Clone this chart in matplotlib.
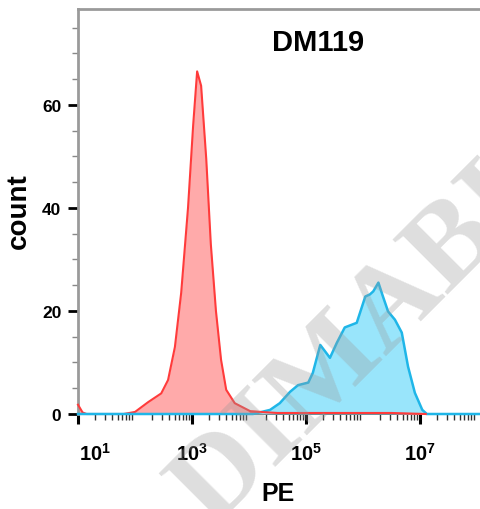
import matplotlib
matplotlib.use("Agg")
import numpy as np
import matplotlib.pyplot as plt
import matplotlib.transforms as mtransforms
from matplotlib.ticker import MultipleLocator, LogLocator, NullFormatter

plt.rcParams['font.family'] = 'Liberation Sans'
plt.rcParams['mathtext.fontset'] = 'custom'
plt.rcParams['mathtext.rm'] = 'Liberation Sans:bold'
plt.rcParams['mathtext.it'] = 'Liberation Sans:bold'
plt.rcParams['mathtext.bf'] = 'Liberation Sans:bold'

# ── Data (log10 of PE intensity vs count) ─────────────────────
ctrl_log = [1.0, 1.08, 1.15, 1.8, 2.0, 2.23, 2.46, 2.58, 2.70, 2.81, 2.93,
            3.02, 3.09, 3.16, 3.25, 3.33, 3.42, 3.51, 3.60, 3.75, 4.03,
            4.5, 5.0, 5.5, 6.0, 6.5, 7.1]
ctrl_count = [1.8, 0.3, 0, 0, 0.4, 2.3, 4.0, 6.6, 13, 23.5, 40,
              56, 66.5, 63.7, 49.5, 33, 20, 10.5, 4.7, 2.1, 0.5,
              0.2, 0.2, 0.2, 0.2, 0.2, 0]

dm_log = [1.0, 4.07, 4.37, 4.54, 4.72, 4.86, 5.04, 5.12, 5.25, 5.42, 5.54,
          5.68, 5.89, 6.04, 6.12, 6.18, 6.27, 6.35, 6.44, 6.56, 6.68, 6.79,
          6.91, 7.04, 7.12, 8.07]
dm_count = [0, 0, 0.8, 2.1, 4.3, 5.6, 6.1, 8.0, 13.4, 10.9, 13.8,
            16.8, 17.7, 22.8, 23.2, 23.8, 25.5, 22.8, 19.9, 18.3, 15.8, 9.2,
            4.1, 0.8, 0, 0]

xtick_exp = [1, 3, 5, 7]
ytick_major = [0, 20, 40, 60]

RED_LINE, RED_FILL = "#FF3B3B", "#FFAAAA"
BLUE_LINE, BLUE_FILL = "#1FB6E8", "#99E5FB"

W, H = 481, 510
fig = plt.figure(figsize=(W / 100, H / 100), dpi=100)
ax = fig.add_axes([78 / W, 1 - 415 / H, 1 - 78 / W, (415 - 10) / H])

cx = 10 ** np.array(ctrl_log)
bx = 10 ** np.array(dm_log)

ax.fill_between(cx, ctrl_count, 0, color=RED_FILL, lw=0, zorder=2)
ax.plot(cx, ctrl_count, color=RED_LINE, lw=1.5, zorder=3, clip_on=False)
ax.fill_between(bx, dm_count, 0, color=BLUE_FILL, lw=0, zorder=4)
ax.plot(bx, dm_count, color=BLUE_LINE, lw=1.8, zorder=5, clip_on=False)
# red baseline stays visible across the positive population
tail = np.array(ctrl_log) >= 4.0
ax.plot(cx[tail], np.array(ctrl_count)[tail], color=RED_LINE, lw=1.5,
        zorder=6, clip_on=False)

ax.set_xscale("log")
ax.set_xlim(10, 10 ** 8.07)
ax.set_ylim(0, 78.6)

# ── Axes styling ─────────────────────────────────────────────
for s in ("left", "top"):
    ax.spines[s].set_color("#9a9a9a")
    ax.spines[s].set_linewidth(2)
ax.spines["right"].set_visible(False)
ax.spines["bottom"].set_color("#222222")
ax.spines["bottom"].set_linewidth(1.2)

ax.set_yticks(ytick_major)
ax.set_yticklabels([str(v) for v in ytick_major])
ax.yaxis.set_minor_locator(MultipleLocator(5))
ax.set_xticks([10.0 ** e for e in xtick_exp])
ax.set_xticklabels([r"$10^{%d}$" % e for e in xtick_exp])
ax.xaxis.set_minor_locator(LogLocator(base=10, subs=np.arange(2, 10), numticks=20))
ax.xaxis.set_minor_formatter(NullFormatter())

ax.tick_params(axis="y", which="major", direction="out", length=7, width=2,
               color="black", labelsize=12.5, pad=5)
ax.tick_params(axis="y", which="minor", direction="out", length=4, width=1,
               color="#888888")
ax.tick_params(axis="x", which="major", direction="out", length=7, width=2.2,
               color="black", labelsize=14.5, pad=13)
ax.tick_params(axis="x", which="minor", direction="out", length=4, width=1,
               color="#333333")
for lab in ax.get_yticklabels():
    lab.set_fontweight("bold")

# first decade label is pushed inside the plot, as in the original
first = ax.xaxis.get_major_ticks()[0].label1
first.set_transform(first.get_transform() +
                    mtransforms.ScaledTranslation(0.17, 0, fig.dpi_scale_trans))

# ── Text ─────────────────────────────────────────────────────
fig.text(318 / W, 1 - 43 / H, "DM119", ha="center", va="center",
         fontsize=21, fontweight="bold")
fig.text(19 / W, 1 - 211 / H, "count", ha="center", va="center",
         rotation=90, fontsize=20, fontweight="bold")
fig.text(278 / W, 1 - 494 / H, "PE", ha="center", va="center",
         fontsize=18, fontweight="bold")

# watermark
fig.text(212 / W, 1 - 528 / H, "DIMABIO", rotation=45, rotation_mode="anchor",
         ha="left", va="baseline", fontsize=86, fontweight="bold",
         family="Liberation Serif", color="#9a9a9a", alpha=0.32, zorder=10)

fig.savefig("out.png", dpi=100)
